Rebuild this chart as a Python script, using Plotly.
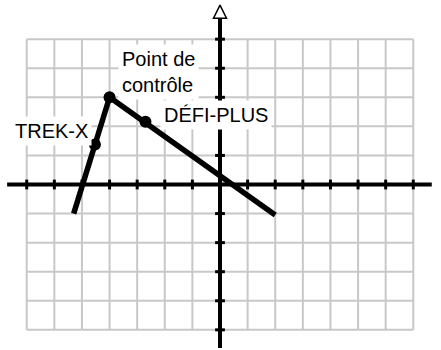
import plotly.graph_objects as go

# ---- data ----
grid_x = list(range(-7, 8))
grid_y = list(range(-5, 6))
axis_x_ext = [-7.71, 7.67]
axis_y_ext = [-5.62, 5.69]
arrow_tip_x = 8.14
arrow_tip_y = 6.17

trek_x = [-5.3, -4.0]
trek_y = [-1.0, 3.0]
defi_x = [-4.0, 2.0]
defi_y = [3.0, -1.05]

point_names = ["Point de contrôle", "TREK-X", "DÉFI-PLUS"]
point_x = [-4.0, -4.53, -2.7]
point_y = [3.0, 1.38, 2.16]

label_texts = ["Point de<br>contrôle", "DÉFI-PLUS", "TREK-X"]
label_x = [-2.23, -0.13, -6.11]
label_y = [3.86, 2.40, 1.84]

FONT = "Arial, Liberation Sans, sans-serif"

fig = go.Figure()

# grid
gx, gy = [], []
for v in grid_x:
    gx += [v, v, None]
    gy += [grid_y[0], grid_y[-1], None]
for h in grid_y:
    gx += [grid_x[0], grid_x[-1], None]
    gy += [h, h, None]
fig.add_trace(go.Scatter(x=gx, y=gy, mode="lines",
                         line=dict(color="#c8c8c8", width=2), hoverinfo="skip"))

# axes
fig.add_trace(go.Scatter(x=axis_x_ext, y=[0, 0], mode="lines",
                         line=dict(color="black", width=4), hoverinfo="skip"))
fig.add_trace(go.Scatter(x=[0, 0], y=axis_y_ext, mode="lines",
                         line=dict(color="black", width=4), hoverinfo="skip"))

# tick marks
tx = [v for v in grid_x if v != 0]
fig.add_trace(go.Scatter(x=tx, y=[0] * len(tx), mode="markers",
                         marker=dict(symbol="line-ns", size=7,
                                     line=dict(color="black", width=3)),
                         hoverinfo="skip"))
ty = [v for v in grid_y if v != 0]
fig.add_trace(go.Scatter(x=[0] * len(ty), y=ty, mode="markers",
                         marker=dict(symbol="line-ew", size=7,
                                     line=dict(color="black", width=3)),
                         hoverinfo="skip"))

# arrowheads
fig.add_trace(go.Scatter(x=[0], y=[arrow_tip_y], mode="markers", cliponaxis=False,
                         marker=dict(symbol="arrow-up", size=13, color="white",
                                     line=dict(color="black", width=1.5)),
                         hoverinfo="skip"))
fig.add_trace(go.Scatter(x=[arrow_tip_x], y=[0], mode="markers", cliponaxis=False,
                         marker=dict(symbol="arrow-right", size=13, color="white",
                                     line=dict(color="black", width=1.5)),
                         hoverinfo="skip"))

# series lines
fig.add_trace(go.Scatter(x=trek_x, y=trek_y, mode="lines", name="TREK-X",
                         line=dict(color="black", width=5.5)))
fig.add_trace(go.Scatter(x=defi_x, y=defi_y, mode="lines", name="DÉFI-PLUS",
                         line=dict(color="black", width=5.5)))
fig.add_trace(go.Scatter(x=point_x, y=point_y, mode="markers", text=point_names,
                         marker=dict(color="black", size=12)))

for t, x, y in zip(label_texts, label_x, label_y):
    fig.add_annotation(x=x, y=y, text=t, showarrow=False,
                       font=dict(family=FONT, size=20, color="black"),
                       bgcolor="white", borderpad=3, align="left")

fig.update_layout(
    width=441, height=350,
    margin=dict(l=0, r=0, t=0, b=0),
    paper_bgcolor="white", plot_bgcolor="white",
    showlegend=False,
    xaxis=dict(visible=False, range=[-7.968, 8.004], fixedrange=True),
    yaxis=dict(visible=False, range=[-5.693, 6.347], fixedrange=True),
)

fig.write_html("out.html",
               config={"displayModeBar": False},
               post_script="document.body.style.margin='0';document.body.style.padding='0';")
